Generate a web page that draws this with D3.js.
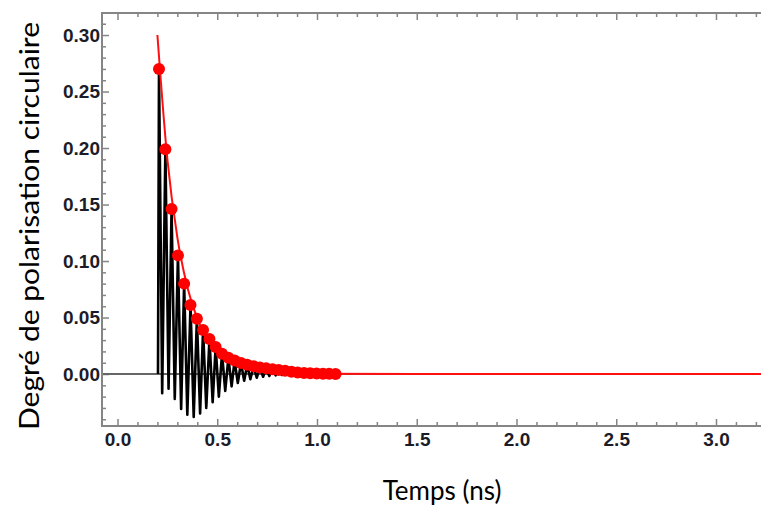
<!DOCTYPE html>
<html>
<head>
<meta charset="utf-8">
<script src="https://cdn.jsdelivr.net/npm/d3@7/dist/d3.min.js"></script>
<style>
  html, body { margin: 0; padding: 0; background: #fff; }
  svg { display: block; }
</style>
</head>
<body>
<svg id="chart" width="761" height="505"></svg>
<script>
// ---- data ----
const xTickValues = [0, 0.5, 1.0, 1.5, 2.0, 2.5, 3.0];
const xTickLabels = ["0.0", "0.5", "1.0", "1.5", "2.0", "2.5", "3.0"];
const yTickValues = [0, 0.05, 0.10, 0.15, 0.20, 0.25, 0.30];
const yTickLabels = ["0.00", "0.05", "0.10", "0.15", "0.20", "0.25", "0.30"];

// red dots (peaks of the oscillation)
const peakT = [0.208, 0.240, 0.271, 0.303, 0.334, 0.366, 0.398, 0.429, 0.461, 0.492,
               0.524, 0.556, 0.587, 0.619, 0.650, 0.682, 0.714, 0.745, 0.777, 0.808,
               0.840, 0.872, 0.903, 0.935, 0.966, 0.998, 1.030, 1.061, 1.093];
const peakV = [0.270, 0.199, 0.146, 0.105, 0.080, 0.061, 0.049, 0.039, 0.031, 0.024,
               0.0180, 0.0145, 0.0120, 0.0098, 0.0082, 0.0068, 0.0058, 0.0050, 0.0043, 0.0036,
               0.0028, 0.0020, 0.0014, 0.0010, 0.0007, 0.0005, 0.0003, 0.0002, 0.0001];
// troughs of the black oscillating signal
const troughT = [0.224, 0.256, 0.287, 0.319, 0.350, 0.382, 0.414, 0.445, 0.477, 0.508,
                 0.540, 0.572, 0.603, 0.635, 0.666, 0.698, 0.730, 0.761, 0.793, 0.824,
                 0.856, 0.888, 0.919, 0.951, 0.982, 1.014, 1.046, 1.077];
const troughV = [-0.017, -0.013, -0.022, -0.031, -0.036, -0.038, -0.035, -0.030, -0.025, -0.020,
                 -0.015, -0.011, -0.008, -0.006, -0.0045, -0.0033, -0.0024, -0.0017, -0.0012, -0.0008,
                 -0.0005, -0.0003, -0.0002, -0.0001, 0, 0, 0, 0];
// signal before / after the oscillation
const baseT = [-0.08, 0.203];
const tailT = [1.11, 3.30];

// exponential fit (red line)
const fitT = [0.200, 0.250, 0.300, 0.350, 0.400, 0.450, 0.500, 0.600, 0.700, 0.800, 1.000, 1.500, 3.300];
const fitV = [0.300, 0.190, 0.121, 0.077, 0.049, 0.031, 0.020, 0.008, 0.0032, 0.0013, 0.0002, 0.0, 0.0];

// ---- layout ----
const W = 761, H = 505;
const mLeft = 102, mRight = 762, mTop = 13, mBottom = 426;

const x = d3.scaleLinear().domain([-0.0777, 3.2306]).range([mLeft, mRight]);
const y = d3.scaleLinear().domain([-0.0460, 0.3195]).range([mBottom, mTop]);

const svg = d3.select("#chart");
svg.append("rect").attr("width", W).attr("height", H).attr("fill", "#fff");

const frameColor = "#858585";
const labelFont = "'Liberation Sans', Arial, sans-serif";
const labelSize = 19;

// minor ticks
const xMinor = d3.range(1, 33).map(i => i / 10).filter(v => xTickValues.every(m => Math.abs(m - v) > 1e-6));
const yMinor = d3.range(-4, 32).map(i => i / 100).filter(v => yTickValues.every(m => Math.abs(m - v) > 1e-6));

function styleAxis(g) {
  g.select(".domain").remove();
  g.selectAll(".tick line").attr("stroke", frameColor).attr("stroke-width", 1.5);
}

// bottom axis: major with labels
const gxb = svg.append("g").attr("transform", `translate(0,${mBottom})`)
  .call(d3.axisBottom(x).tickValues(xTickValues)
    .tickFormat((d, i) => xTickLabels[i]).tickSize(-7).tickPadding(7));
styleAxis(gxb);
gxb.selectAll(".tick text").attr("font-family", labelFont).attr("font-weight", "bold")
  .attr("font-size", labelSize).attr("fill", "#1c1c28");
// bottom minor
styleAxis(svg.append("g").attr("transform", `translate(0,${mBottom})`)
  .call(d3.axisBottom(x).tickValues(xMinor).tickFormat("").tickSize(-4)));
// top axis ticks
styleAxis(svg.append("g").attr("transform", `translate(0,${mTop})`)
  .call(d3.axisTop(x).tickValues(xTickValues).tickFormat("").tickSize(-7)));
styleAxis(svg.append("g").attr("transform", `translate(0,${mTop})`)
  .call(d3.axisTop(x).tickValues(xMinor).tickFormat("").tickSize(-4)));

// left axis
const gyl = svg.append("g").attr("transform", `translate(${mLeft},0)`)
  .call(d3.axisLeft(y).tickValues(yTickValues)
    .tickFormat((d, i) => yTickLabels[i]).tickSize(-7).tickPadding(2));
styleAxis(gyl);
gyl.selectAll(".tick text").attr("font-family", labelFont).attr("font-weight", "bold")
  .attr("font-size", labelSize).attr("fill", "#1c1c28");
styleAxis(svg.append("g").attr("transform", `translate(${mLeft},0)`)
  .call(d3.axisLeft(y).tickValues(yMinor).tickFormat("").tickSize(-4)));

// frame (no right border visible)
const frame = d3.path();
frame.moveTo(mRight, mTop); frame.lineTo(mLeft, mTop); frame.lineTo(mLeft, mBottom); frame.lineTo(mRight, mBottom);
svg.append("path").attr("d", frame.toString()).attr("fill", "none")
  .attr("stroke", frameColor).attr("stroke-width", 2);

// clip
svg.append("clipPath").attr("id", "plotclip").append("rect")
  .attr("x", mLeft + 1).attr("y", mTop + 1).attr("width", mRight - mLeft).attr("height", mBottom - mTop - 2);
const plot = svg.append("g").attr("clip-path", "url(#plotclip)");

// zero / baseline of the signal
const line = d3.line().x(d => x(d[0])).y(d => y(d[1]));
plot.append("path").datum([[baseT[0], 0], [tailT[1], 0]])
  .attr("d", line).attr("fill", "none").attr("stroke", "#666").attr("stroke-width", 2.2);

// black oscillating signal
const sig = [[baseT[0], 0], [baseT[1], 0]];
peakT.forEach((t, i) => {
  sig.push([t, peakV[i]]);
  if (i < troughT.length) sig.push([troughT[i], troughV[i]]);
});
sig.push([tailT[0], 0]); sig.push([tailT[1], 0]);
plot.append("path").datum(sig.slice(1, sig.length - 1)).attr("d", line).attr("fill", "none")
  .attr("stroke", "#000").attr("stroke-width", 2.6).attr("stroke-linejoin", "round");

// red fit
const fitLine = d3.line().x(d => x(d[0])).y(d => y(d[1])).curve(d3.curveMonotoneX);
plot.append("path").datum(fitT.map((t, i) => [t, fitV[i]]))
  .attr("d", fitLine).attr("fill", "none").attr("stroke", "#ff1010").attr("stroke-width", 2);

// red dots
plot.selectAll("circle.dot").data(peakT.map((t, i) => [t, peakV[i]])).enter()
  .append("circle").attr("class", "dot")
  .attr("cx", d => x(d[0])).attr("cy", d => y(d[1])).attr("r", 6)
  .attr("fill", "#ff0000");

// axis titles
svg.append("text").attr("x", 442).attr("y", 500).attr("text-anchor", "middle")
  .attr("font-family", "Lato, 'Open Sans', sans-serif").attr("font-size", 26)
  .attr("fill", "#000").text("Temps (ns)");
svg.append("text").attr("transform", "translate(39,226) rotate(-90)")
  .attr("text-anchor", "middle")
  .attr("font-family", "Lato, 'Open Sans', sans-serif").attr("font-size", 26)
  .attr("fill", "#000").attr("textLength", 408).attr("lengthAdjust", "spacingAndGlyphs")
  .text("Degré de polarisation circulaire");
</script>
</body>
</html>
